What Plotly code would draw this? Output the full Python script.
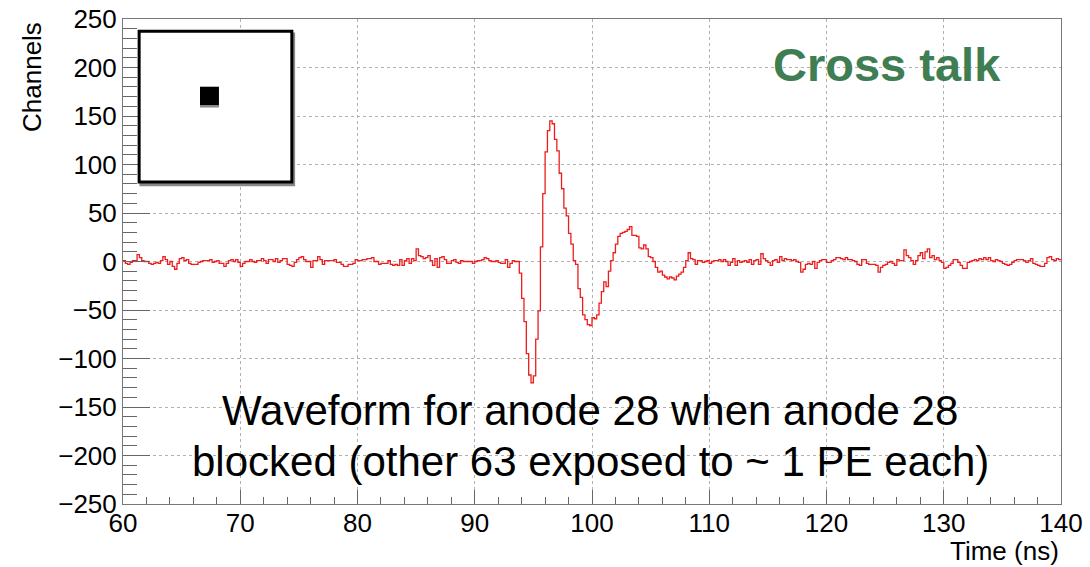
import plotly.graph_objects as go
import numpy as np

# histogram binning (ns)
t_start = 60.0
bin_w = 0.2

# baseline before the pulse, 60.0 .. 93.6 ns
baseline_early = [
    1, -2, -3, -1, 1, 1, 7, 4, 1, 0,
    0, -2, -3, -2, -1, -2, 1, 5, 2, -3,
    0, -5, -8, -2, 3, 4, 1, 2, -2, -3,
    -3, -3, -1, 0, 1, 1, 1, 2, -1, 0,
    1, -2, -2, -5, -2, 1, 2, 0, 2, -1,
    -5, -2, 0, 0, 2, 0, -1, 1, 1, 3,
    1, -2, 2, 2, 0, 3, -1, 1, 3, 3,
    -3, -4, -5, -1, 2, 4, 5, 2, 0, 0,
    -6, 1, 1, 5, 2, -3, 1, 1, 1, 1,
    2, -1, -1, -3, -5, -5, -3, -3, -2, 2,
    1, 1, 2, 2, 3, 3, 4, 0, 0, -3,
    -2, -2, -2, 1, -3, -4, -3, -4, 2, -4,
    1, 3, -2, 3, 1, 13, 6, 5, 3, 4,
    6, 1, -4, 3, -6, 4, 5, 2, -2, -2,
    1, 2, -1, -2, 1, 0, 0, 0, 0, -2,
    0, 1, 1, 2, 4, 3, 1, 0, 0, 1,
    -1, -2, -2, 2, -6, -2, 1, 0, 0,
]

# cross-talk pulse, 93.8 .. 109.0 ns
pulse = [
    -12, -38, -62, -95, -117, -125, -118, -80, -51, 15,
    70, 113, 135, 145, 142, 126, 114, 91, 75, 55,
    47, 29, 18, 1, -3, -28, -37, -55, -60, -65,
    -66, -58, -59, -55, -43, -31, -21, -26, -10, 1,
    9, 18, 26, 29, 30, 31, 33, 36, 27, 27,
    26, 14, 13, 17, 13, 5, 4, 0, -6, -11,
    -10, -14, -16, -18, -16, -17, -19, -15, -13, -11,
    -6, 1, 9, 3, 2, -3, 1,
]

# baseline after the pulse, 109.2 .. 139.8 ns
baseline_late = [
    1, -1, 0, 1, -2, 0, 1, 1, 2, 0,
    2, 0, -4, -1, 3, -4, 1, -1, 0, 1,
    -1, 2, -3, 1, 2, -3, 8, 3, 1, -1,
    -4, 1, 2, -1, 5, 1, 3, 2, 2, 1,
    2, 0, -1, -11, -8, -3, -2, -3, 0, -7,
    -1, 1, 2, 2, -1, -1, 1, 2, 4, 4,
    3, 2, 4, 2, 2, 1, 0, -3, -4, 2,
    2, -2, -3, -3, -3, -4, -11, -6, -4, -3,
    -1, 0, -2, -4, 2, 1, 1, 12, 6, 4,
    1, -3, 1, 6, 9, 3, 10, 13, 4, 6,
    2, 4, 1, -1, -7, -6, -4, -2, 2, 2,
    -1, -4, -7, -7, -1, 0, 1, 2, 1, 3,
    2, 4, 2, 4, 1, 0, 2, 1, 0, -2,
    -3, -4, -3, -1, 1, 2, 2, 2, 1, -1,
    1, 3, -2, -3, -4, -5, -5, -2, 4, 5,
    2, 1, 3, 2,
]

counts = baseline_early + pulse + baseline_late
edges = t_start + bin_w * np.arange(len(counts) + 1)
yvals = counts + [counts[-1]]

FONT = "Liberation Sans"

fig = go.Figure(go.Scatter(
    x=edges, y=yvals, mode="lines",
    line=dict(color="#ee1c1c", width=1.3, shape="hv"),
    hoverinfo="skip",
))

fig.update_layout(
    width=1090, height=567,
    margin=dict(l=123, r=29, t=19, b=63, autoexpand=False),
    plot_bgcolor="white", paper_bgcolor="white",
    showlegend=False,
    font=dict(family=FONT, color="black"),
)

fig.update_xaxes(
    range=[60, 140], tick0=60, dtick=10, automargin=False,
    ticks="inside", ticklen=14, tickcolor="#666", tickwidth=1,
    minor=dict(ticks="inside", ticklen=7, dtick=2, tickcolor="#666", showgrid=False),
    showgrid=True, gridcolor="#b0b0b0", griddash="dot", gridwidth=1,
    showline=True, mirror=True, linecolor="#777", linewidth=1,
    zeroline=False, tickfont=dict(size=26, family=FONT), ticklabelstandoff=-4,
)
fig.update_yaxes(
    range=[-250, 250], tick0=0, dtick=50, automargin=False,
    ticks="inside", ticklen=27, tickcolor="#666", tickwidth=1,
    minor=dict(ticks="inside", ticklen=14, dtick=10, tickcolor="#666", showgrid=False),
    showgrid=True, gridcolor="#b0b0b0", griddash="dot", gridwidth=1,
    showline=True, mirror=True, linecolor="#777", linewidth=1,
    zeroline=False, tickfont=dict(size=26, family=FONT),
)

# inset: pixel map with the blocked anode
fig.add_shape(type="rect", xref="paper", yref="paper",
              x0=0.0175, x1=0.1835, y0=0.655, y1=0.972,
              fillcolor="#888", line=dict(width=0), layer="above")
fig.add_shape(type="rect", xref="paper", yref="paper",
              x0=0.0172, x1=0.1800, y0=0.664, y1=0.975,
              fillcolor="white", line=dict(color="black", width=3), layer="above")
fig.add_shape(type="rect", xref="paper", yref="paper",
              x0=0.0821, x1=0.1023, y0=0.8175, y1=0.8227,
              fillcolor="#888", line=dict(width=0), layer="above")
fig.add_shape(type="rect", xref="paper", yref="paper",
              x0=0.0821, x1=0.1023, y0=0.8227, y1=0.8604,
              fillcolor="black", line=dict(width=0), layer="above")

fig.add_annotation(text="<b>Cross talk</b>", xref="paper", yref="paper",
                   x=0.8145, y=0.907, xanchor="center", yanchor="middle",
                   showarrow=False, font=dict(size=47, color="#3f7d52", family=FONT))
fig.add_annotation(text="Waveform for anode 28 when anode 28", xref="paper", yref="paper",
                   x=0.498, y=0.192, xanchor="center", yanchor="middle",
                   showarrow=False, font=dict(size=42, color="black", family=FONT))
fig.add_annotation(text="blocked (other 63 exposed to ~ 1 PE each)", xref="paper", yref="paper",
                   x=0.498, y=0.087, xanchor="center", yanchor="middle",
                   showarrow=False, font=dict(size=42, color="black", family=FONT))

# axis titles, ROOT style (right / top aligned)
fig.add_annotation(text="Time (ns)", xref="paper", yref="paper",
                   x=1.0, y=-0.097, xanchor="right", yanchor="middle",
                   showarrow=False, font=dict(size=26, family=FONT))
fig.add_annotation(text="Channels", xref="paper", yref="paper",
                   x=-0.097, y=0.998, xanchor="center", yanchor="top", textangle=-90,
                   showarrow=False, font=dict(size=26, family=FONT))

# drop the default page margin so the figure sits at the window origin
fig.write_html("out.html", config={"displayModeBar": False},
               post_script="document.body.style.margin='0';")
